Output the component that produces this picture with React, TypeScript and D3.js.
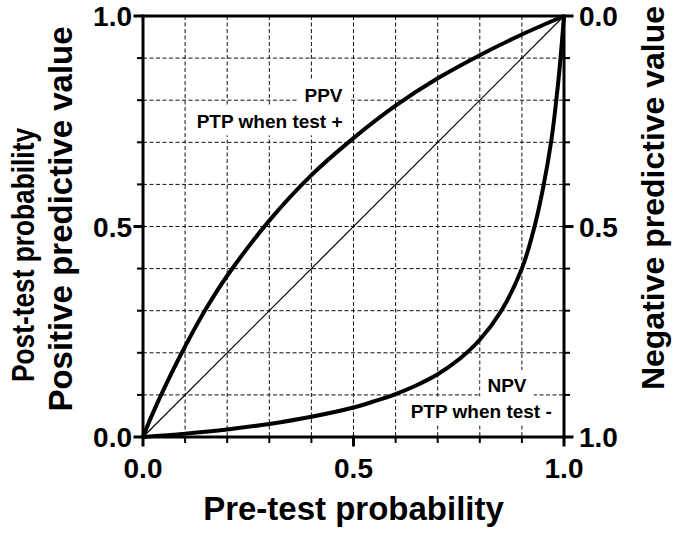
import { useEffect, useRef } from 'react';
import * as d3 from 'd3';

const WIDTH = 675;
const HEIGHT = 533;
const FONT = '"Liberation Sans", Arial, Helvetica, sans-serif';

// PPV curve: pre-test probability vs post-test probability when test +
const ppvPre = [0, 0.02, 0.05, 0.1, 0.15, 0.2, 0.3, 0.4, 0.5, 0.6, 0.7, 0.8, 0.9, 1.0];
const ppvPost = [0, 0.049, 0.115, 0.215, 0.305, 0.383, 0.514, 0.622, 0.71, 0.787, 0.852, 0.907, 0.956, 1.0];

// NPV curve: post-test probability when test -
const npvPre = [0, 0.1, 0.2, 0.3, 0.4, 0.5, 0.55, 0.6, 0.65, 0.7, 0.75, 0.8, 0.85, 0.9, 0.93, 0.95, 0.97, 0.98, 0.99, 1.0];
const npvPost = [0, 0.008, 0.018, 0.031, 0.048, 0.07, 0.085, 0.102, 0.123, 0.149, 0.184, 0.231, 0.298, 0.4, 0.5, 0.59, 0.705, 0.785, 0.88, 1.0];

// reference line (pre-test = post-test)
const diagPre = [0, 1];

const majorTicks = [0, 0.5, 1];
const majorLabels = ['0.0', '0.5', '1.0'];
const minorTicks = [0.1, 0.2, 0.3, 0.4, 0.6, 0.7, 0.8, 0.9];
const gridTicks = [0.1, 0.2, 0.3, 0.4, 0.5, 0.6, 0.7, 0.8, 0.9];

export default function App() {
    const svgRef = useRef<SVGSVGElement>(null);

    useEffect(() => {
        document.body.style.margin = '0';
        if (!svgRef.current) return;
        const svg = d3.select(svgRef.current);
        svg.selectAll('*').remove();

        const margin = { top: 16, right: 111, bottom: 96, left: 143 };
        const w = WIDTH - margin.left - margin.right;
        const h = HEIGHT - margin.top - margin.bottom;
        const g = svg.append('g').attr('transform', `translate(${margin.left},${margin.top})`);

        const x = d3.scaleLinear().domain([0, 1]).range([0, w]);
        const y = d3.scaleLinear().domain([0, 1]).range([h, 0]);
        const yR = d3.scaleLinear().domain([0, 1]).range([0, h]); // NPV axis, reversed

        // dashed grid
        const grid = g.append('g').attr('stroke', '#111').attr('stroke-width', 1).attr('stroke-dasharray', '4,2.5');
        gridTicks.forEach(t => {
            grid.append('line').attr('x1', x(t)).attr('x2', x(t)).attr('y1', 0).attr('y2', h);
            grid.append('line').attr('x1', 0).attr('x2', w).attr('y1', y(t)).attr('y2', y(t));
        });

        // in-plot labels with white boxes
        const label = (lines: { text: string; x: number; y: number }[]) => {
            lines.forEach(l => {
                const t = g.append('text')
                    .attr('x', x(l.x)).attr('y', y(l.y))
                    .attr('text-anchor', 'end')
                    .style('font-family', FONT).style('font-weight', 'bold').style('font-size', '19px')
                    .text(l.text);
                const bb = (t.node() as SVGTextElement).getBBox();
                g.insert('rect', () => t.node())
                    .attr('x', bb.x - 7).attr('y', bb.y - 5)
                    .attr('width', bb.width + 14).attr('height', bb.height + 8)
                    .attr('fill', '#fff');
            });
        };
        label([
            { text: 'PPV', x: 0.474, y: 0.795 },
            { text: 'PTP when test +', x: 0.474, y: 0.733 },
        ]);
        label([
            { text: 'NPV', x: 0.911, y: 0.107 },
            { text: 'PTP when test -', x: 0.971, y: 0.044 },
        ]);

        const line = d3.line<[number, number]>()
            .x(d => x(d[0]))
            .y(d => y(d[1]))
            .curve(d3.curveCatmullRom.alpha(0.5));

        // diagonal
        g.append('path')
            .datum(diagPre.map(p => [p, p] as [number, number]))
            .attr('d', line).attr('fill', 'none').attr('stroke', '#000').attr('stroke-width', 1.2);

        g.append('path')
            .datum(ppvPre.map((p, i) => [p, ppvPost[i]] as [number, number]))
            .attr('d', line).attr('fill', 'none').attr('stroke', '#000').attr('stroke-width', 4);

        g.append('path')
            .datum(npvPre.map((p, i) => [p, npvPost[i]] as [number, number]))
            .attr('d', line).attr('fill', 'none').attr('stroke', '#000').attr('stroke-width', 4);

        // frame / axes
        const axis = g.append('g').attr('stroke', '#000').attr('stroke-linecap', 'square');
        axis.append('rect').attr('x', 0).attr('y', 0).attr('width', w).attr('height', h)
            .attr('fill', 'none').attr('stroke-width', 3);

        majorTicks.forEach(t => {
            axis.append('line').attr('x1', x(t)).attr('x2', x(t)).attr('y1', h).attr('y2', h + 8).attr('stroke-width', 3);
            axis.append('line').attr('x1', -8).attr('x2', 0).attr('y1', y(t)).attr('y2', y(t)).attr('stroke-width', 3);
            axis.append('line').attr('x1', w).attr('x2', w + 8).attr('y1', yR(t)).attr('y2', yR(t)).attr('stroke-width', 3);
        });
        minorTicks.forEach(t => {
            axis.append('line').attr('x1', x(t)).attr('x2', x(t)).attr('y1', h).attr('y2', h + 5).attr('stroke-width', 2);
            axis.append('line').attr('x1', -5).attr('x2', 0).attr('y1', y(t)).attr('y2', y(t)).attr('stroke-width', 2);
            axis.append('line').attr('x1', w).attr('x2', w + 5).attr('y1', yR(t)).attr('y2', yR(t)).attr('stroke-width', 2);
        });

        const tickText = (sel: d3.Selection<SVGTextElement, unknown, null, undefined>) =>
            sel.style('font-family', FONT).style('font-weight', 'bold').style('font-size', '28px').attr('fill', '#000');

        majorTicks.forEach((t, i) => {
            tickText(g.append('text')).attr('x', x(t)).attr('y', h + 41).attr('text-anchor', 'middle').text(majorLabels[i]);
            tickText(g.append('text')).attr('x', -11).attr('y', y(t)).attr('dy', '0.36em').attr('text-anchor', 'end').text(majorLabels[i]);
            tickText(g.append('text')).attr('x', w + 15).attr('y', yR(t)).attr('dy', '0.36em').attr('text-anchor', 'start').text(majorLabels[i]);
        });

        // axis titles
        const title = (s: d3.Selection<SVGTextElement, unknown, null, undefined>, size: number) =>
            s.style('font-family', FONT).style('font-weight', 'bold').style('font-size', `${size}px`)
                .attr('fill', '#000').attr('text-anchor', 'middle');

        title(svg.append('text'), 33).attr('x', margin.left + w / 2).attr('y', 520).text('Pre-test probability');
        title(svg.append('text'), 32).attr('transform', 'translate(34,255) rotate(-90)')
            .attr('textLength', 254).attr('lengthAdjust', 'spacingAndGlyphs').text('Post-test probability');
        title(svg.append('text'), 33).attr('transform', 'translate(72,219) rotate(-90)').text('Positive predictive value');
        title(svg.append('text'), 32).attr('transform', 'translate(664,198) rotate(-90)').text('Negative predictive value');
    }, []);

    return (
        <svg ref={svgRef} width={WIDTH} height={HEIGHT}
            style={{ position: 'absolute', left: 0, top: 0, background: '#fff', display: 'block' }} />
    );
}
